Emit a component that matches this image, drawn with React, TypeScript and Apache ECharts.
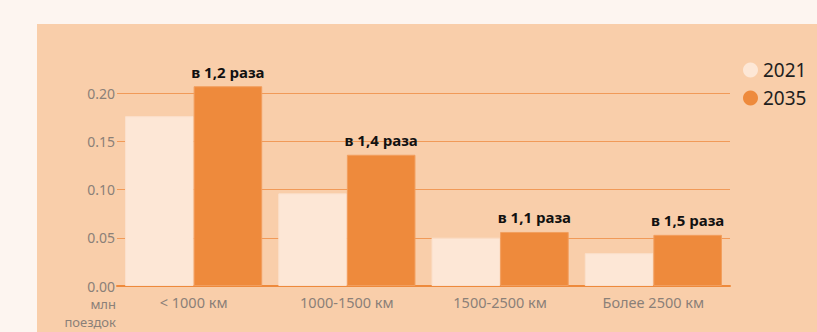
import React, { useEffect, useRef } from "react";
import * as echarts from "echarts";

const categories = ["< 1000 км", "1000-1500 км", "1500-2500 км", "Более 2500 км"];
const values2021 = [0.176, 0.096, 0.05, 0.034];
const values2035 = [0.207, 0.136, 0.056, 0.053];
const growthLabels = ["в 1,2 раза", "в 1,4 раза", "в 1,1 раза", "в 1,5 раза"];
const seriesNames = ["2021", "2035"];
const unitLines = ["млн", "поездок"];

const FONT = "'Noto Sans', Inter, sans-serif";

export default function App() {
  const ref = useRef<HTMLDivElement>(null);
  useEffect(() => {
    document.body.style.margin = "0";
    const chart = echarts.init(ref.current!, null, { renderer: "svg" });
    chart.setOption({
      animation: false,
      backgroundColor: "#FDF5F0",
      textStyle: { fontFamily: FONT },
      graphic: [
        {
          type: "rect",
          z: -10,
          shape: { x: 37, y: 24, width: 800, height: 320 },
          style: { fill: "#F9CEAA" },
          silent: true,
        },
        ...unitLines.map((t, i) => ({
          type: "text",
          x: 116,
          y: 304 + i * 18,
          style: {
            text: t,
            fill: "#8B8078",
            font: `13px ${FONT}`,
            align: "right",
            verticalAlign: "middle",
          },
        })),
      ],
      legend: {
        orient: "vertical",
        left: 743,
        top: 60,
        padding: 0,
        icon: "circle",
        itemWidth: 15,
        itemHeight: 15,
        itemGap: 8,
        itemStyle: { borderWidth: 0 },
        textStyle: { fontSize: 19, color: "#1E1E1E", fontFamily: FONT, lineHeight: 20 },
        data: seriesNames,
      },
      grid: { left: 117, right: 87, top: 93, bottom: 46 },
      xAxis: {
        type: "category",
        data: categories,
        axisLine: { lineStyle: { color: "#EE8A3C", width: 2 } },
        axisTick: { show: false },
        axisLabel: { color: "#8B8078", fontSize: 14.5, margin: 8, fontFamily: FONT },
      },
      yAxis: {
        type: "value",
        min: 0,
        max: 0.2,
        interval: 0.05,
        axisLine: { show: false },
        axisTick: { show: false },
        axisLabel: {
          color: "#8B8078",
          fontSize: 14,
          lineHeight: 14,
          margin: 2,
          fontFamily: FONT,
          formatter: (v: number) => v.toFixed(2),
        },
        splitLine: { lineStyle: { color: "#F19A58", width: 1 } },
      },
      series: [
        {
          name: seriesNames[0],
          type: "bar",
          data: values2021,
          clip: false,
          barGap: "0%",
          barCategoryGap: "10.5%",
          itemStyle: { color: "#FDE7D6", borderColor: "#FBE0CC", borderWidth: 1 },
        },
        {
          name: seriesNames[1],
          type: "bar",
          data: values2035,
          clip: false,
          barGap: "0%",
          barCategoryGap: "10.5%",
          itemStyle: { color: "#EE8A3C", borderColor: "#F29E5E", borderWidth: 1 },
          label: {
            show: true,
            position: "top",
            distance: 7,
            color: "#111",
            fontWeight: "bold",
            fontSize: 15,
            fontFamily: FONT,
            formatter: (p: any) => growthLabels[p.dataIndex],
          },
        },
      ],
    });
    return () => chart.dispose();
  }, []);
  return <div ref={ref} style={{ width: 817, height: 332 }} />;
}
